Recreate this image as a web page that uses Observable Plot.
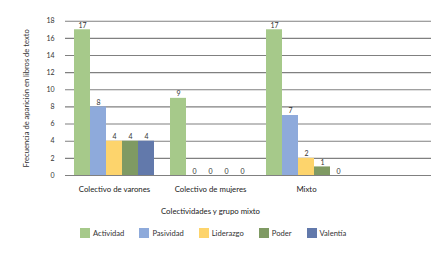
<!DOCTYPE html>
<html>
<head>
<meta charset="utf-8">
<script src="https://cdn.jsdelivr.net/npm/d3@7"></script>
<script src="https://cdn.jsdelivr.net/npm/@observablehq/plot@0.6"></script>
<style>
  html, body { margin: 0; padding: 0; background: #fff; }
  #wrap { position: relative; width: 431px; height: 254px; overflow: hidden; font-family: Lato, sans-serif; }
  #leg { position: absolute; left: 0; top: 223px; width: 431px; }
  #leg > div { font-family: Lato, sans-serif !important; font-size: 7.6px !important; color: #333 !important; min-height: 20px !important; margin: 0 !important; padding-left: 80px; }
  #leg span { margin-right: 15px !important; }
  #leg span > svg { margin-right: 3px !important; }
</style>
</head>
<body>
<div id="wrap"><div id="chart"></div><div id="leg"></div></div>
<script>
const groups = ["Colectivo de varones", "Colectivo de mujeres", "Mixto"];
const series = ["Actividad", "Pasividad", "Liderazgo", "Poder", "Valentía"];
const varones = [17, 8, 4, 4, 4];
const mujeres = [9, 0, 0, 0, 0];
const mixto = [17, 7, 2, 1, 0];
const yTicks = [0, 2, 4, 6, 8, 10, 12, 14, 16, 18];
const colors = ["#a6c98a", "#8eaadb", "#fdd46c", "#7f9a63", "#6279ab"];
const xTitle = "Colectividades y grupo mixto";
const yTitle = "Frecuencia de aparición en libros de texto";

const valuesByGroup = [varones, mujeres, mixto];
const rows = [];
groups.forEach((g, gi) => series.forEach((s, si) => rows.push({group: g, series: s, value: valuesByGroup[gi][si], key: g + "|" + s})));

const domain = [];
groups.forEach((g, gi) => {
  series.forEach(s => domain.push(g + "|" + s));
  if (gi < groups.length - 1) domain.push("gap" + gi);
});
const midKey = g => g + "|" + series[2];

const font = "Lato, sans-serif";
const chart = Plot.plot({
  width: 431,
  height: 254,
  marginLeft: 65,
  marginRight: 0,
  marginTop: 20.7,
  marginBottom: 79,
  style: {fontFamily: font, fontSize: "7.5px", color: "#333", background: "#fff"},
  x: {type: "band", domain, range: [72, 347], padding: 0, axis: null},
  y: {domain: [0, 18], axis: null},
  color: {domain: series, range: colors},
  marks: [
    Plot.ruleY(yTicks, {stroke: "#808080", strokeWidth: 1.1}),
    Plot.barY(rows, {x: "key", y: "value", fill: "series"}),
    Plot.text(rows, {x: "key", y: "value", text: d => String(d.value), lineAnchor: "bottom", dy: -2, fill: "#333", fontSize: 7}),
    Plot.text(yTicks, {y: d => d, text: d => String(d), frameAnchor: "left", textAnchor: "end", dx: -11, fill: "#333", fontSize: 7}),
    Plot.text(groups, {x: midKey, text: d => d, frameAnchor: "bottom", lineAnchor: "middle", dy: 14, fill: "#222", fontSize: 7.8}),
    Plot.text([xTitle], {x: () => midKey(groups[1]), text: d => d, frameAnchor: "bottom", lineAnchor: "middle", dy: 36, fill: "#222", fontSize: 7.8}),
    Plot.text([yTitle], {text: d => d, frameAnchor: "left", textAnchor: "middle", rotate: -90, dx: -39, fill: "#333", fontSize: 7.6})
  ]
});
document.getElementById("chart").appendChild(chart);

const legend = Plot.legend({color: {domain: series, range: colors}, legend: "swatches", swatchSize: 10});
document.getElementById("leg").appendChild(legend);
</script>
</body>
</html>
